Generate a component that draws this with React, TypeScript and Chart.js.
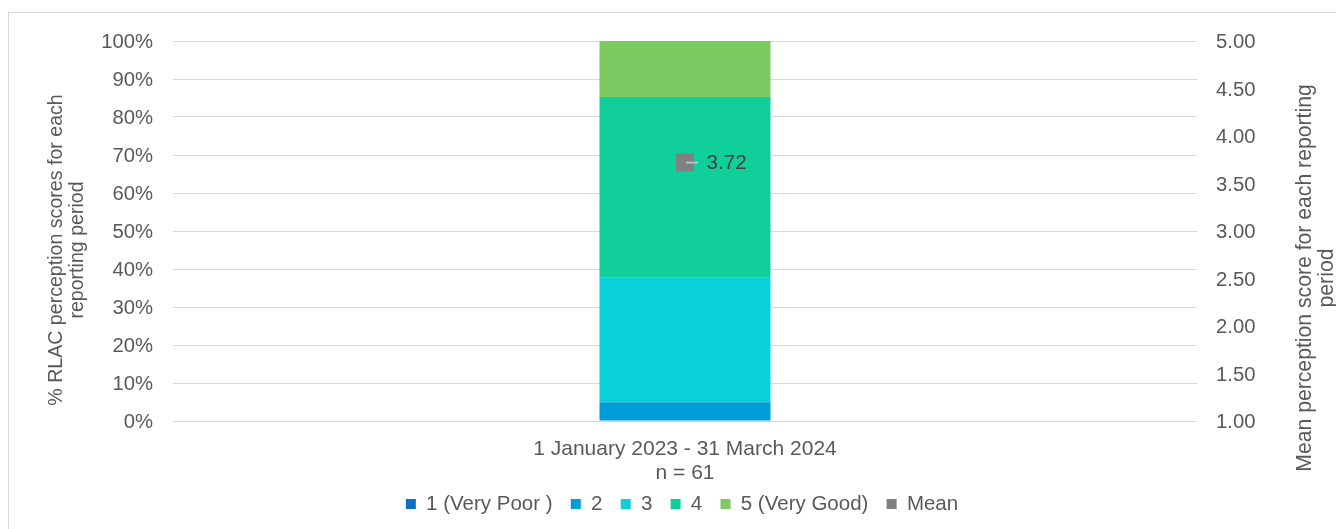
import React, { useEffect, useRef } from "react";
import { Chart, registerables } from "chart.js";

Chart.register(...registerables);

// ---- data ----
const categoryLines = ["1 January 2023 - 31 March 2024", "n = 61"];
const seriesLabels = ["1 (Very Poor )", "2", "3", "4", "5 (Very Good)"];
const score1 = [0];
const score2 = [4.92];
const score3 = [32.79];
const score4 = [47.54];
const score5 = [14.75];
const meanScores = [3.72];
const meanLabel = "Mean";
const leftTitle = ["% RLAC perception scores for each", "reporting period"];
const rightTitle = ["Mean perception score for each reporting", "period"];

// ---- styles ----
const colors = ["#0F6FC6", "#009DD9", "#0BD0D9", "#10CF9B", "#7CCA62"];
const meanColor = "#808080";
const textColor = "#595959";
const gridColor = "#D9D9D9";
const FAMILY = '"Liberation Sans", Arial, sans-serif';
const FS = 20.3;
const PAD_LEFT = 28;

const annotatePlugin = {
  id: "annotate",
  afterDatasetsDraw(chart: any) {
    const ctx = chart.ctx;
    const meta = chart.getDatasetMeta(5);
    const pt = meta.data[0];
    if (!pt) return;
    ctx.save();
    ctx.strokeStyle = "#BFBFBF";
    ctx.lineWidth = 2;
    ctx.beginPath();
    ctx.moveTo(pt.x + 1, pt.y);
    ctx.lineTo(pt.x + 13, pt.y);
    ctx.stroke();
    ctx.fillStyle = "#404040";
    ctx.font = `20.6px ${FAMILY}`;
    ctx.textAlign = "left";
    ctx.textBaseline = "middle";
    ctx.fillText(meanScores[0].toFixed(2), pt.x + 21.5, pt.y + 1);
    ctx.restore();
  },
  afterDraw(chart: any) {
    const ctx = chart.ctx;
    ctx.save();
    ctx.fillStyle = textColor;
    ctx.textAlign = "center";
    ctx.textBaseline = "alphabetic";
    // left title
    ctx.save();
    ctx.font = `19.6px ${FAMILY}`;
    ctx.translate(61.5, 250);
    ctx.rotate(-Math.PI / 2);
    ctx.fillText(leftTitle[0], 0, 0);
    ctx.fillText(leftTitle[1], 0, 21);
    ctx.restore();
    // right title
    ctx.save();
    ctx.font = `21.2px ${FAMILY}`;
    ctx.translate(1310.5, 278);
    ctx.rotate(-Math.PI / 2);
    ctx.fillText(rightTitle[0], 0, 0);
    ctx.fillText(rightTitle[1], 0, 22.5);
    ctx.restore();
    ctx.restore();
  },
};

export default function App() {
  const canvasRef = useRef<HTMLCanvasElement | null>(null);

  useEffect(() => {
    if (!canvasRef.current) return;
    const barData = [score1, score2, score3, score4, score5];
    const chart = new Chart(canvasRef.current, {
      type: "bar",
      data: {
        labels: [categoryLines],
        datasets: [
          ...barData.map((d, i) => ({
            type: "bar" as const,
            label: seriesLabels[i],
            data: d,
            backgroundColor: colors[i],
            borderWidth: 0,
            yAxisID: "y",
            categoryPercentage: 0.167,
            barPercentage: 1,
            order: 1,
          })),
          {
            type: "line" as const,
            label: meanLabel,
            data: meanScores,
            yAxisID: "y2",
            showLine: false,
            backgroundColor: meanColor,
            borderColor: meanColor,
            borderWidth: 0,
            pointStyle: "rect",
            pointRadius: 12.73,
            pointBorderWidth: 0,
            pointBackgroundColor: meanColor,
            order: 0,
          } as any,
        ],
      },
      options: {
        responsive: false,
        animation: false,
        events: [],
        layout: { padding: { top: 41, left: PAD_LEFT, right: 0, bottom: 4.75 } },
        plugins: {
          tooltip: { enabled: false },
          legend: {
            position: "bottom",
            labels: {
              boxWidth: 10,
              boxHeight: 10,
              padding: 18.25,
              color: textColor,
              font: { family: FAMILY, size: 20.5 },
              sort: (a: any, b: any) => a.datasetIndex - b.datasetIndex,
            },
          },
        },
        scales: {
          x: {
            stacked: true,
            grid: { display: false, drawTicks: false },
            border: { display: false },
            ticks: {
              color: textColor,
              padding: 16.4,
              font: { family: FAMILY, size: 21, lineHeight: 1.131 },
            },
            afterFit: (s: any) => {
              s.height = 54.5;
              s._computeLabelArea = () => null;
            },
          },
          y: {
            stacked: true,
            position: "left",
            min: 0,
            max: 100,
            grid: { color: gridColor, lineWidth: 1, drawTicks: false },
            border: { display: false },
            ticks: {
              stepSize: 10,
              padding: 20,
              labelOffset: 1.5,
              color: textColor,
              font: { family: FAMILY, size: FS },
              callback: (v: any) => `${v}%`,
            },
            afterFit: (s: any) => {
              s.width = 173 - PAD_LEFT;
            },
          },
          y2: {
            position: "right",
            min: 1,
            max: 5,
            grid: { display: false, drawTicks: false },
            border: { display: false },
            ticks: {
              stepSize: 0.5,
              padding: 19,
              labelOffset: 1.5,
              color: textColor,
              font: { family: FAMILY, size: FS },
              callback: (v: any) => Number(v).toFixed(2),
            },
            afterFit: (s: any) => {
              s.width = 1336 - 1197;
            },
          },
        },
      } as any,
      plugins: [annotatePlugin],
    });
    return () => chart.destroy();
  }, []);

  return (
    <div
      style={{
        position: "fixed",
        left: 0,
        top: 0,
        width: 1336,
        height: 529,
        overflow: "hidden",
        background: "#FFFFFF",
      }}
    >
      <div
        style={{
          position: "absolute",
          left: 8,
          top: 12,
          width: 2000,
          height: 2000,
          border: "1px solid #D9D9D9",
          boxSizing: "border-box",
        }}
      />
      <canvas
        ref={canvasRef}
        width={1336}
        height={529}
        style={{ position: "absolute", left: 0, top: 0, width: 1336, height: 529 }}
      />
    </div>
  );
}
